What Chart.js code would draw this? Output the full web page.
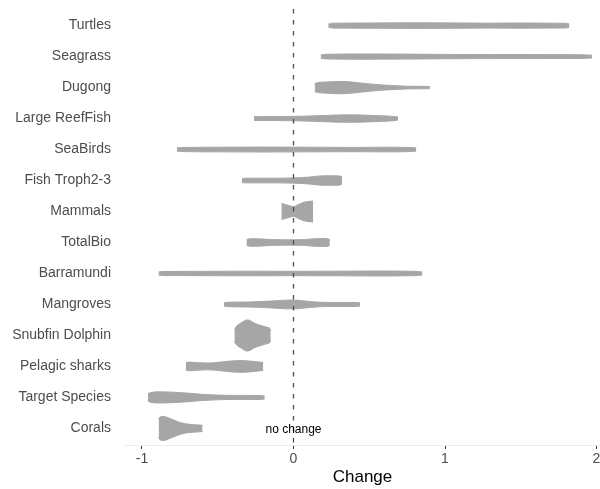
<!DOCTYPE html>
<html>
<head>
<meta charset="utf-8">
<script src="https://cdn.jsdelivr.net/npm/chart.js@4"></script>
<style>
  html, body { margin: 0; padding: 0; background: #fff; }
  #wrap { width: 600px; height: 489px; }
</style>
</head>
<body>
<div id="wrap"><canvas id="chart"></canvas></div>
<script>
// categories, top to bottom
const categories = ['Turtles', 'Seagrass', 'Dugong', 'Large ReefFish', 'SeaBirds', 'Fish Troph2-3',
    'Mammals', 'TotalBio', 'Barramundi', 'Mangroves', 'Snubfin Dolphin', 'Pelagic sharks',
    'Target Species', 'Corals'];

// violin profiles: [change, half width (in row units)]
const turtles = [[0.23, 0.05], [0.26, 0.08], [0.5, 0.085], [0.8, 0.09], [1.1, 0.085], [1.3, 0.08],
    [1.5, 0.085], [1.7, 0.08], [1.8, 0.075], [1.82, 0.05]];
const seagrass = [[0.18, 0.05], [0.21, 0.075], [0.5, 0.085], [0.75, 0.08], [1.0, 0.07], [1.3, 0.065],
    [1.6, 0.065], [1.9, 0.06], [1.97, 0.045]];
const dugong = [[0.14, 0.13], [0.16, 0.16], [0.22, 0.18], [0.3, 0.2], [0.36, 0.19], [0.44, 0.15],
    [0.52, 0.11], [0.6, 0.08], [0.68, 0.06], [0.74, 0.045], [0.85, 0.04], [0.9, 0.035]];
const largeReefFish = [[-0.26, 0.06], [-0.1, 0.065], [0.05, 0.075], [0.2, 0.1], [0.35, 0.12],
    [0.45, 0.115], [0.58, 0.09], [0.66, 0.07], [0.69, 0.05]];
const seaBirds = [[-0.77, 0.05], [-0.74, 0.065], [-0.5, 0.075], [-0.2, 0.08], [0.1, 0.075],
    [0.4, 0.07], [0.6, 0.075], [0.78, 0.065], [0.81, 0.05]];
const fishTroph = [[-0.34, 0.06], [-0.32, 0.075], [-0.15, 0.075], [0.0, 0.085], [0.1, 0.11],
    [0.18, 0.15], [0.24, 0.155], [0.3, 0.15], [0.32, 0.12]];
const mammals = [[-0.08, 0.26], [-0.05, 0.22], [-0.02, 0.18], [0.0, 0.16], [0.03, 0.22],
    [0.07, 0.3], [0.11, 0.33], [0.13, 0.34]];
const totalBio = [[-0.31, 0.09], [-0.29, 0.12], [-0.24, 0.12], [-0.15, 0.095], [-0.05, 0.085],
    [0.05, 0.09], [0.12, 0.115], [0.18, 0.13], [0.22, 0.125], [0.24, 0.1]];
const barramundi = [[-0.89, 0.05], [-0.86, 0.065], [-0.6, 0.07], [-0.3, 0.075], [0.0, 0.07],
    [0.3, 0.075], [0.55, 0.08], [0.8, 0.07], [0.85, 0.05]];
const mangroves = [[-0.46, 0.05], [-0.44, 0.07], [-0.3, 0.08], [-0.15, 0.11], [-0.05, 0.14],
    [0.0, 0.145], [0.06, 0.12], [0.15, 0.08], [0.25, 0.065], [0.4, 0.065], [0.44, 0.05]];
const snubfin = [[-0.39, 0.2], [-0.37, 0.33], [-0.34, 0.42], [-0.31, 0.5], [-0.29, 0.49],
    [-0.26, 0.4], [-0.22, 0.33], [-0.18, 0.27], [-0.155, 0.22], [-0.15, 0.15]];
const pelagicSharks = [[-0.71, 0.12], [-0.69, 0.14], [-0.63, 0.12], [-0.56, 0.11], [-0.48, 0.14],
    [-0.4, 0.18], [-0.34, 0.19], [-0.28, 0.17], [-0.23, 0.145], [-0.2, 0.13]];
const targetSpecies = [[-0.96, 0.12], [-0.94, 0.16], [-0.88, 0.18], [-0.8, 0.17], [-0.7, 0.14],
    [-0.6, 0.1], [-0.5, 0.075], [-0.35, 0.065], [-0.22, 0.065], [-0.19, 0.05]];
const corals = [[-0.89, 0.3], [-0.88, 0.37], [-0.86, 0.39], [-0.82, 0.33], [-0.78, 0.25],
    [-0.74, 0.18], [-0.7, 0.14], [-0.66, 0.12], [-0.62, 0.11], [-0.6, 0.1]];

const profiles = [turtles, seagrass, dugong, largeReefFish, seaBirds, fishTroph, mammals,
    totalBio, barramundi, mangroves, snubfin, pelagicSharks, targetSpecies, corals];

const xTicks = [-1, 0, 1, 2];
const noChange = 0;

const violinGrey = '#a6a6a6';
const n = categories.length;
const yMin = 0.465;
const yMax = n + 0.665;

const datasets = [{
    data: [{ x: noChange, y: yMin }, { x: noChange, y: yMax }],
    borderColor: '#4d4d4d',
    borderWidth: 1.3,
    borderDash: [4.5, 6.5],
    borderDashOffset: 8.4,
    pointRadius: 0,
    fill: false
}];

profiles.forEach((p, i) => {
    const row = n - i;
    datasets.push({
        data: p.map(([x, w]) => ({ x: x, y: row + w })),
        borderColor: violinGrey,
        borderWidth: 1,
        pointRadius: 0,
        cubicInterpolationMode: 'monotone',
        fill: false
    });
    datasets.push({
        data: p.map(([x, w]) => ({ x: x, y: row - w })),
        borderColor: violinGrey,
        backgroundColor: violinGrey,
        borderWidth: 1,
        pointRadius: 0,
        cubicInterpolationMode: 'monotone',
        fill: '-1'
    });
});

const noChangeLabel = {
    id: 'noChangeLabel',
    afterDatasetsDraw(chart) {
        const ctx = chart.ctx;
        const x = chart.scales.x.getPixelForValue(noChange);
        const y = chart.scales.y.getPixelForValue(1);
        ctx.save();
        ctx.font = '12px "Liberation Sans", Arial, sans-serif';
        ctx.fillStyle = '#000';
        ctx.textAlign = 'center';
        ctx.textBaseline = 'middle';
        ctx.fillText('no change', x, y + 1);
        ctx.restore();
    }
};

Chart.defaults.font.family = '"Liberation Sans", Arial, sans-serif';

new Chart(document.getElementById('chart'), {
    type: 'scatter',
    data: { datasets: datasets },
    plugins: [noChangeLabel],
    options: {
        responsive: true,
        maintainAspectRatio: false,
        animation: false,
        showLine: true,
        layout: { padding: { top: 5, right: 0, bottom: 0, left: 0 } },
        plugins: {
            legend: { display: false },
            tooltip: { enabled: false }
        },
        scales: {
            x: {
                type: 'linear',
                min: -1.112,
                max: 2.023,
                afterBuildTicks: s => { s.ticks = xTicks.map(v => ({ value: v })); },
                afterFit: s => { s.height = 44; s.paddingLeft = 0; s.paddingRight = 0; },
                grid: {
                    display: true,
                    drawOnChartArea: false,
                    drawTicks: true,
                    tickLength: 4,
                    color: '#333333'
                },
                border: { display: true, color: '#ebebeb' },
                ticks: {
                    padding: 2,
                    color: '#4d4d4d',
                    font: { size: 14 },
                    maxRotation: 0
                },
                title: {
                    display: true,
                    text: 'Change',
                    color: '#000',
                    font: { size: 17 },
                    padding: { top: 0, bottom: 1 }
                }
            },
            y: {
                type: 'linear',
                min: yMin,
                max: yMax,
                afterBuildTicks: s => { s.ticks = categories.map((c, i) => ({ value: n - i })); },
                afterFit: s => { s.width = 125; s.paddingTop = 0; s.paddingBottom = 0; },
                grid: { display: false, drawTicks: false },
                border: { display: false },
                ticks: {
                    padding: 14,
                    color: '#4d4d4d',
                    font: { size: 14 },
                    callback: v => categories[n - v]
                }
            }
        }
    }
});
</script>
</body>
</html>
